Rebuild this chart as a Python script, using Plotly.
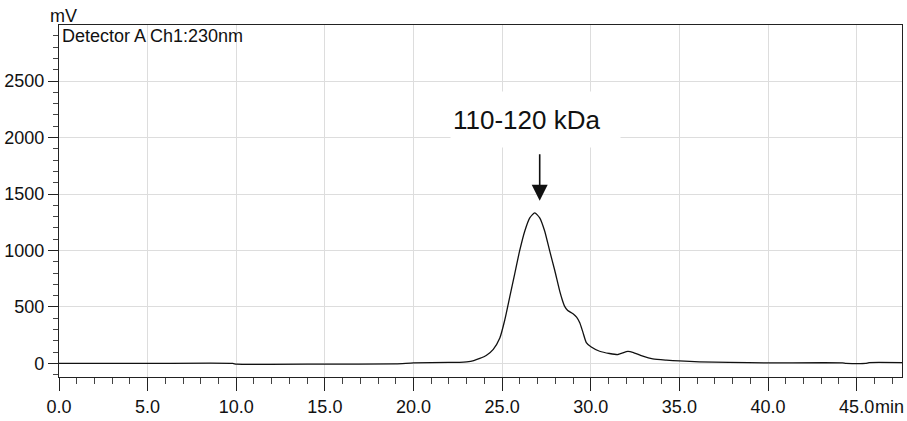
import plotly.graph_objects as go

# Chromatogram data (time in min, signal in mV)
time_min = [0, 5, 9.8, 10.0, 15, 19, 20, 22, 22.6, 23.0, 23.4, 23.74, 24.1, 24.5,
            24.87, 25.15, 25.43, 25.71, 25.99, 26.28, 26.56, 26.84, 27.12, 27.4,
            27.68, 27.97, 28.25, 28.4, 28.53, 28.7, 29.0, 29.2, 29.38, 29.56, 29.75,
            30.03, 30.5, 31.06, 31.53, 31.8, 32.09, 32.37, 32.94, 33.5, 34.26, 35.0,
            36.13, 37.8, 39.9, 44.2, 44.4, 45.5, 45.7, 47.56]
signal_mv = [0, 0, 0, -6, -6, -3, 5, 10, 10, 14, 25, 44, 70, 125,
             225, 385, 589, 793, 998, 1173, 1289, 1333, 1289, 1173,
             998, 823, 640, 560, 505, 468, 440, 410, 360, 275, 185,
             145, 108, 88, 79, 93, 106, 99, 64, 40, 29, 22,
             14, 9, 5, 5, 0, 0, 7, 7]

x_range = [0, 47.56]
y_range = [-120, 2996]
y_ticks = [0, 500, 1000, 1500, 2000, 2500]
peak_label = "110-120 kDa"
peak_time = 27.12
peak_arrow_tip = 1441
detector_label = "Detector A Ch1:230nm"

FONT = "Liberation Sans, Arial, sans-serif"

fig = go.Figure()
fig.add_trace(go.Scatter(
    x=time_min, y=signal_mv, mode="lines",
    line=dict(color="#111111", width=1.3, shape="spline", smoothing=0.6),
    hoverinfo="skip", showlegend=False,
))

fig.update_layout(
    width=907, height=421,
    margin=dict(l=58, r=4, t=25, b=40),
    plot_bgcolor="white", paper_bgcolor="white",
    font=dict(family=FONT, size=18, color="#111111"),
    showlegend=False,
)

fig.update_xaxes(
    range=x_range, tick0=0, dtick=5, tickformat=".1f",
    showgrid=True, gridcolor="#dddddd", gridwidth=1,
    showline=True, linecolor="#222222", linewidth=1.3, mirror=True,
    ticks="outside", ticklen=13, tickwidth=1, tickcolor="#222222",
    minor=dict(dtick=1, tick0=0, ticks="outside", ticklen=6, tickcolor="#444444", showgrid=False),
    zeroline=False,
    tickfont=dict(family=FONT, size=18, color="#111111"),
)
fig.update_yaxes(
    range=y_range, tickmode="array", tickvals=y_ticks,
    showgrid=True, gridcolor="#dddddd", gridwidth=1,
    showline=True, linecolor="#222222", linewidth=1.3, mirror=True,
    ticks="outside", ticklen=10, tickwidth=1, tickcolor="#222222",
    minor=dict(dtick=100, tick0=0, ticks="outside", ticklen=5, tickcolor="#444444", showgrid=False),
    zeroline=False,
    tickfont=dict(family=FONT, size=18, color="#111111"),
)

annotations = [
    # "mV" unit label
    dict(text="mV", xref="paper", yref="paper", x=0, y=1, xanchor="left", yanchor="bottom",
         xshift=-11, yshift=-3, showarrow=False, font=dict(family=FONT, size=18, color="#111111")),
    # "min" unit label after 45.0
    dict(text="min", xref="x", yref="paper", x=45, y=0, xanchor="left", yanchor="middle",
         xshift=16, yshift=-30, showarrow=False, font=dict(family=FONT, size=18, color="#111111")),
    # Detector label
    dict(text=detector_label, xref="paper", yref="paper", x=0, y=1, xanchor="left", yanchor="top",
         xshift=1, yshift=1, showarrow=False, font=dict(family=FONT, size=18, color="#111111")),
    # Peak label with white box
    dict(text=peak_label, xref="x", yref="y", x=26.87, y=2160, xanchor="center", yanchor="middle",
         showarrow=False, bgcolor="white", width=165, height=51, borderpad=2, align="left",
         valign="middle", font=dict(family=FONT, size=26, color="#111111")),
    # Arrow
    dict(text="", xref="x", yref="y", x=peak_time, y=peak_arrow_tip, ax=0, ay=-48,
         showarrow=True, arrowhead=2, arrowsize=2, arrowwidth=1.6, arrowcolor="#111111", standoff=0),
]
fig.update_layout(annotations=annotations)

fig.write_html("out.html")
